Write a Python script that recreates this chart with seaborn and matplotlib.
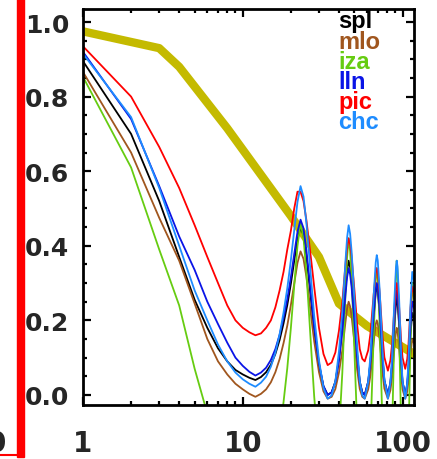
import numpy as np
import pandas as pd
import matplotlib
matplotlib.use("Agg")
import matplotlib.pyplot as plt
import matplotlib.ticker as mticker
from matplotlib.patches import Rectangle
from matplotlib.lines import Line2D
import seaborn as sns

# ---------------- data ----------------
x = [1, 2, 3, 4, 5, 6, 7, 8, 9, 10, 11, 12,
     13, 14, 15, 16, 17, 18, 19, 20, 21, 22, 23,
     24, 25, 26, 27, 28, 30, 32, 34,
     36, 38, 40, 42, 44, 45, 46, 47, 48, 50, 52, 54, 56, 58,
     61, 63, 66, 68, 69, 70, 72, 75, 77, 81,
     84, 86, 89, 91, 92, 93, 95, 98, 100, 104,
     107, 109, 112, 115, 118]

spl = [0.895, 0.70, 0.52, 0.37, 0.255, 0.18, 0.125, 0.09, 0.067, 0.055, 0.046, 0.04,
       0.048, 0.061, 0.081, 0.11, 0.147, 0.192, 0.241, 0.298, 0.36, 0.417, 0.45,
       0.428, 0.374, 0.306, 0.239, 0.176, 0.081, 0.023, 0.0,
       0.007, 0.036, 0.097, 0.18, 0.288, 0.335, 0.36, 0.342, 0.306, 0.209, 0.108, 0.036, 0.007, 0.0,
       0.035, 0.087, 0.209, 0.276, 0.29, 0.278, 0.218, 0.096, 0.038, 0.0,
       0.031, 0.078, 0.187, 0.247, 0.26, 0.25, 0.195, 0.086, 0.034, 0.0,
       0.026, 0.066, 0.158, 0.22, 0.205]

mlo = [0.866, 0.65, 0.475, 0.36, 0.245, 0.15, 0.09, 0.055, 0.03, 0.015, 0.003, -0.005,
       0.003, 0.015, 0.034, 0.061, 0.096, 0.139, 0.186, 0.241, 0.299, 0.354, 0.385,
       0.365, 0.318, 0.259, 0.199, 0.144, 0.061, 0.01, -0.01,
       -0.005, 0.016, 0.06, 0.12, 0.198, 0.232, 0.25, 0.237, 0.211, 0.141, 0.068, 0.016, -0.005, -0.01,
       0.015, 0.053, 0.141, 0.19, 0.2, 0.192, 0.148, 0.059, 0.017, -0.01,
       0.013, 0.047, 0.127, 0.171, 0.18, 0.172, 0.133, 0.053, 0.015, -0.01,
       0.009, 0.038, 0.105, 0.15, 0.139]

iza = [0.853, 0.61, 0.39, 0.24, 0.07, -0.05, -0.14, -0.2, -0.24, -0.27, -0.29, -0.3,
       -0.285, -0.262, -0.224, -0.171, -0.102, -0.019, 0.072, 0.179, 0.293, 0.399, 0.46,
       0.422, 0.331, 0.217, 0.103, -0.004, -0.163, -0.262, -0.3,
       -0.286, -0.228, -0.106, 0.06, 0.276, 0.37, 0.42, 0.384, 0.312, 0.118, -0.084, -0.228, -0.286, -0.3,
       -0.223, -0.108, 0.161, 0.308, 0.34, 0.314, 0.18, -0.089, -0.217, -0.3,
       -0.221, -0.102, 0.175, 0.327, 0.36, 0.334, 0.195, -0.082, -0.214, -0.3,
       -0.228, -0.12, 0.132, 0.3, 0.258]

lln = [0.92, 0.74, 0.56, 0.425, 0.335, 0.25, 0.19, 0.14, 0.10, 0.078, 0.062, 0.052,
       0.06, 0.073, 0.094, 0.123, 0.161, 0.207, 0.257, 0.315, 0.378, 0.437, 0.47,
       0.447, 0.39, 0.32, 0.249, 0.183, 0.085, 0.024, 0.0,
       0.007, 0.034, 0.092, 0.17, 0.272, 0.316, 0.34, 0.323, 0.289, 0.197, 0.102, 0.034, 0.007, 0.0,
       0.036, 0.09, 0.216, 0.285, 0.30, 0.288, 0.225, 0.099, 0.039, 0.0,
       0.034, 0.084, 0.202, 0.266, 0.28, 0.269, 0.21, 0.092, 0.036, 0.0,
       0.03, 0.075, 0.18, 0.25, 0.233]

pic = [0.935, 0.80, 0.665, 0.555, 0.455, 0.37, 0.30, 0.24, 0.20, 0.18, 0.168, 0.16,
       0.165, 0.18, 0.2, 0.235, 0.28, 0.33, 0.39, 0.44, 0.50, 0.545, 0.545,
       0.52, 0.47, 0.41, 0.35, 0.29, 0.18, 0.11, 0.08,
       0.087, 0.114, 0.172, 0.25, 0.352, 0.396, 0.42, 0.404, 0.371, 0.281, 0.189, 0.123, 0.097, 0.09,
       0.12, 0.165, 0.27, 0.328, 0.34, 0.329, 0.271, 0.156, 0.101, 0.065,
       0.093, 0.136, 0.234, 0.288, 0.30, 0.291, 0.243, 0.146, 0.1, 0.07,
       0.096, 0.136, 0.228, 0.29, 0.275]

chc = [0.915, 0.745, 0.555, 0.40, 0.28, 0.20, 0.135, 0.09, 0.06, 0.042, 0.03, 0.022,
       0.033, 0.049, 0.076, 0.113, 0.162, 0.221, 0.286, 0.361, 0.442, 0.517, 0.56,
       0.532, 0.463, 0.378, 0.292, 0.212, 0.093, 0.019, -0.01,
       -0.001, 0.037, 0.116, 0.223, 0.362, 0.422, 0.455, 0.432, 0.385, 0.26, 0.13, 0.037, -0.001, -0.01,
       0.036, 0.106, 0.267, 0.356, 0.375, 0.36, 0.279, 0.117, 0.04, -0.01,
       0.034, 0.101, 0.256, 0.342, 0.36, 0.345, 0.268, 0.112, 0.038, -0.01,
       0.031, 0.092, 0.235, 0.33, 0.306]

ref_x = [1, 3, 4, 8, 20, 30, 40, 60, 118]
ref_y = [0.975, 0.93, 0.88, 0.715, 0.48, 0.37, 0.245, 0.185, 0.11]

names = ["spl", "mlo", "iza", "lln", "pic", "chc"]
series = [spl, mlo, iza, lln, pic, chc]
colors = ["#000000", "#A0561E", "#66CC11", "#0A14E6", "#FF0000", "#1E8CFF"]

# ---------------- figure ----------------
sns.set_style("ticks")
plt.rcParams["font.family"] = ["Liberation Sans", "DejaVu Sans"]
plt.rcParams["font.weight"] = "bold"

W, H = 437, 460
fig = plt.figure(figsize=(W / 100, H / 100), dpi=100)
ax = fig.add_axes([83 / W, 1 - 406 / H, (414 - 83) / W, (406 - 10) / H])

ref_df = pd.DataFrame({"x": ref_x, "y": ref_y})
sns.lineplot(data=ref_df, x="x", y="y", ax=ax, color="#C4BA00", linewidth=6,
             estimator=None, sort=False, zorder=1)

long = pd.concat([pd.DataFrame({"x": x, "y": s, "site": n}) for n, s in zip(names, series)],
                 ignore_index=True)
sns.lineplot(data=long, x="x", y="y", hue="site", hue_order=names,
             palette=dict(zip(names, colors)), ax=ax, linewidth=1.3,
             estimator=None, sort=False, legend=False, zorder=2)

ax.set_xscale("log")
ax.set_xlim(1, 118)
ax.set_ylim(-0.027, 1.035)
ax.set_xlabel("")
ax.set_ylabel("")

ax.xaxis.set_major_locator(mticker.FixedLocator([1, 10, 100]))
ax.xaxis.set_major_formatter(mticker.FixedFormatter(["1", "10", "100"]))
ax.xaxis.set_minor_locator(mticker.LogLocator(base=10, subs=np.arange(2, 10), numticks=20))
ax.xaxis.set_minor_formatter(mticker.NullFormatter())
ax.yaxis.set_major_locator(mticker.MultipleLocator(0.2))
ax.yaxis.set_minor_locator(mticker.MultipleLocator(0.05))
ax.yaxis.set_major_formatter(mticker.FormatStrFormatter("%.1f"))

for sp in ax.spines.values():
    sp.set_linewidth(2)
    sp.set_color("black")
    sp.set_visible(True)

ax.tick_params(which="both", direction="in", top=True, right=True, width=1.6, color="black")
ax.tick_params(which="major", length=6)
ax.tick_params(which="minor", length=2.8)
ax.tick_params(axis="y", which="major", pad=10)
ax.tick_params(axis="x", which="major", pad=17)
for lab in ax.get_yticklabels():
    lab.set_fontfamily("DejaVu Sans")
    lab.set_fontweight("bold")
    lab.set_fontsize(18)
for lab in ax.get_xticklabels():
    lab.set_fontfamily("DejaVu Sans")
    lab.set_fontweight("bold")
    lab.set_fontsize(20)

# legend as coloured words
baselines = [28, 49, 69, 89, 109, 129]
for n, c, b in zip(names, colors, baselines):
    fig.text(338 / W, 1 - b / H, n, color=c, fontsize=17, fontweight="bold",
             ha="left", va="baseline")

# neighbour-panel remnants on the left edge
fig.patches.append(Rectangle((17 / W, 1 - 458 / H), 7 / W, 458 / H,
                             transform=fig.transFigure, color="#FF0000", zorder=5))
fig.lines.append(Line2D([0, 24 / W], [1 - 456 / H, 1 - 456 / H], transform=fig.transFigure,
                        color="#FF0000", linewidth=1.5))
fig.text(6 / W, 1 - 444 / H, "0", fontsize=20, fontweight="bold", ha="right", va="center",
         family="DejaVu Sans")

fig.savefig("out.png", dpi=100)
